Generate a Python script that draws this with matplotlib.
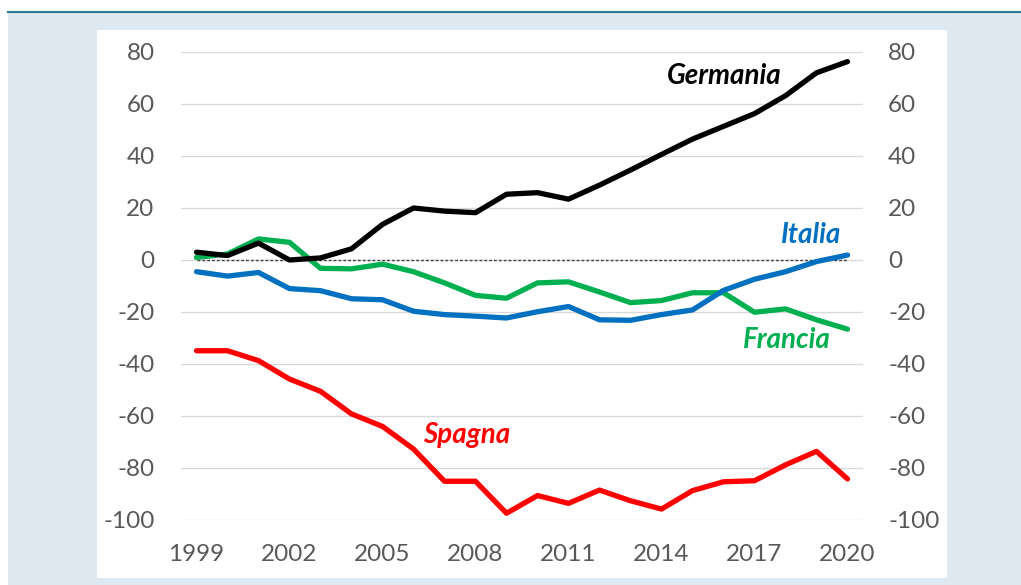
import matplotlib
matplotlib.use("Agg")
import matplotlib.pyplot as plt
from matplotlib.patches import Rectangle
from matplotlib.lines import Line2D

years = list(range(1999, 2021))
germania = [3.0, 1.7, 6.5, 0.0, 0.8, 4.3, 13.7, 20.0, 18.8, 18.2, 25.3, 25.9,
            23.4, 28.8, 34.6, 40.6, 46.5, 51.4, 56.3, 63.2, 72.0, 76.3]
italia = [-4.5, -6.2, -4.8, -11.0, -11.8, -14.9, -15.3, -19.7, -21.0, -21.6, -22.3,
          -19.9, -17.9, -23.0, -23.2, -21.0, -19.2, -11.7, -7.4, -4.5, -0.6, 1.9]
francia = [1.0, 2.3, 8.1, 6.8, -3.2, -3.4, -1.6, -4.5, -8.8, -13.6, -14.7, -8.8,
           -8.4, -12.3, -16.4, -15.6, -12.6, -12.6, -20.1, -18.8, -23.0, -26.6]
spagna = [-34.9, -34.9, -38.7, -45.8, -50.5, -59.2, -64.0, -72.7, -85.1, -85.1,
          -97.4, -90.6, -93.6, -88.5, -92.6, -95.8, -88.7, -85.3, -84.9, -78.8,
          -73.6, -84.2]
zero_line = [0.0] * len(years)
yticks = list(range(-100, 81, 20))
xtick_years = [1999, 2002, 2005, 2008, 2011, 2014, 2017, 2020]

FONT = ["Lato", "DejaVu Sans"]
plt.rcParams["font.family"] = FONT
plt.rcParams["axes.unicode_minus"] = False

W, H = 1021, 585
fig = plt.figure(figsize=(W / 100, H / 100), dpi=100)
fig.patch.set_facecolor("white")

def px(x0, y0, x1, y1):
    return (x0 / W, 1 - y1 / H, (x1 - x0) / W, (y1 - y0) / H)

# background panels
l, b, w, h = px(8, 12, W, H)
fig.patches.append(Rectangle((l, b), w, h, transform=fig.transFigure,
                             facecolor="#dde8f0", edgecolor="none", zorder=0))
fig.lines.append(Line2D([8 / W, 1], [1 - 12 / H, 1 - 12 / H], transform=fig.transFigure,
                        color="#2e7896", lw=1.5, zorder=1))
l, b, w, h = px(97, 30, 947, 578)
fig.patches.append(Rectangle((l, b), w, h, transform=fig.transFigure,
                             facecolor="white", edgecolor="none", zorder=0.5))

ax = fig.add_axes(px(181, 52, 863, 520))
ax.set_facecolor("none")
ax.set_zorder(3)

lw = 3.8
ax.plot(years, zero_line, color="#404040", lw=1.0, ls=(0, (2, 1.5)), zorder=2)
ax.plot(years, spagna, color="#ff0000", lw=lw, solid_capstyle="round", zorder=3)
ax.plot(years, francia, color="#00b050", lw=lw, solid_capstyle="round", zorder=3)
ax.plot(years, italia, color="#0070c0", lw=lw, solid_capstyle="round", zorder=4)
ax.plot(years, germania, color="#000000", lw=lw, solid_capstyle="round", zorder=5)

ax.set_xlim(1998.5, 2020.5)
ax.set_ylim(-100, 80)
ax.set_yticks(yticks)
ax.set_xticks(xtick_years)
ax.set_xticklabels([str(y) for y in xtick_years])
ax.grid(axis="y", color="#d9d9d9", lw=1.0, zorder=0)
ax.set_axisbelow(True)
for s in ax.spines.values():
    s.set_visible(False)
ax.tick_params(axis="both", length=0, labelsize=17.5, colors="#595959")
ax.tick_params(axis="y", pad=19)
ax.tick_params(axis="x", pad=17)

ax2 = ax.twinx()
ax2.set_ylim(-100, 80)
ax2.set_yticks(yticks)
for s in ax2.spines.values():
    s.set_visible(False)
ax2.tick_params(axis="y", length=0, labelsize=17.5, colors="#595959", pad=18)

lab = dict(fontsize=20, fontweight="bold", fontstyle="italic", ha="center", va="center")
ax.text(2016.03, 70.8, "Germania", color="#000000", **lab)
ax.text(2018.82, 9.6, "Italia", color="#0070c0", **lab)
ax.text(2018.06, -30.8, "Francia", color="#00b050", **lab)
ax.text(2007.71, -67.3, "Spagna", color="#ff0000", **lab)

fig.savefig("out.png", dpi=100, facecolor=fig.get_facecolor())
